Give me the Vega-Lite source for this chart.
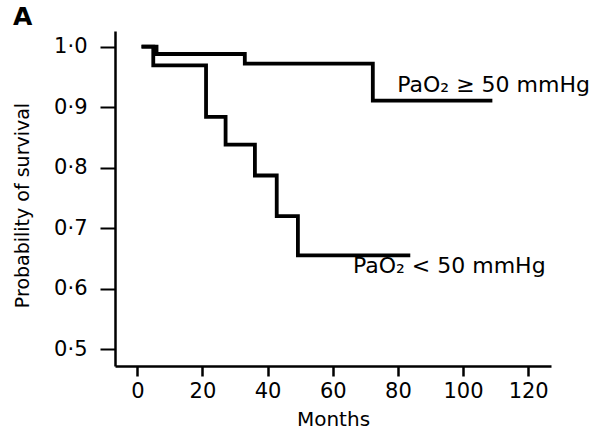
{
  "$schema": "https://vega.github.io/schema/vega-lite/v6.json",
  "width": 436,
  "height": 335,
  "autosize": {"type": "none"},
  "padding": {"left": 115, "top": 31, "right": 60, "bottom": 66},
  "background": "white",
  "config": {
    "view": {"stroke": null},
    "font": "DejaVu Sans",
    "axis": {"grid": false, "domainColor": "black", "tickColor": "black", "labelColor": "black", "titleColor": "black", "labelFont": "DejaVu Sans", "titleFont": "DejaVu Sans", "titleFontWeight": "normal"}
  },
  "title": {"text": "A", "anchor": "start", "frame": "group", "dx": -102, "offset": 1, "fontSize": 25, "fontWeight": "bold", "font": "DejaVu Sans", "color": "black"},
  "datasets": {
    "curves": [
      {"group": "high", "month": 1.3, "surv": 1.0},
      {"group": "high", "month": 5.9, "surv": 0.988},
      {"group": "high", "month": 33, "surv": 0.972},
      {"group": "high", "month": 72.3, "surv": 0.911},
      {"group": "high", "month": 109, "surv": 0.911},
      {"group": "low", "month": 1.3, "surv": 1.0},
      {"group": "low", "month": 4.9, "surv": 0.969},
      {"group": "low", "month": 21.1, "surv": 0.884},
      {"group": "low", "month": 27.1, "surv": 0.838},
      {"group": "low", "month": 36.1, "surv": 0.787},
      {"group": "low", "month": 42.8, "surv": 0.72},
      {"group": "low", "month": 49.3, "surv": 0.655},
      {"group": "low", "month": 83.8, "surv": 0.655}
    ],
    "labels": [
      {"month": 79.8, "surv": 0.925, "label": "PaO₂ ≥ 50 mmHg"},
      {"month": 66.2, "surv": 0.626, "label": "PaO₂ < 50 mmHg"}
    ]
  },
  "layer": [
    {
      "data": {"name": "curves"},
      "mark": {"type": "line", "interpolate": "step-after", "color": "black", "strokeWidth": 3.8, "strokeJoin": "miter", "strokeCap": "butt"},
      "encoding": {
        "x": {"field": "month", "type": "quantitative", "scale": {"domain": [-6.85, 127], "nice": false, "zero": false},
          "axis": {"values": [0, 20, 40, 60, 80, 100, 120], "title": "Months", "titleFontSize": 20, "labelFontSize": 21, "tickSize": 10, "tickWidth": 2.5, "domainWidth": 2.5, "labelPadding": 4, "titlePadding": 8}},
        "y": {"field": "surv", "type": "quantitative", "scale": {"domain": [0.472, 1.026], "nice": false, "zero": false},
          "axis": {"values": [0.5, 0.6, 0.7, 0.8, 0.9, 1.0], "labelExpr": "replace(format(datum.value, '.1f'), '.', '·')", "title": "Probability of survival", "titleFontSize": 19, "titleX": -93, "titleY": 174, "titleAlign": "center", "titleBaseline": "middle", "labelFontSize": 21, "tickSize": 15, "tickWidth": 2, "domainWidth": 2.5, "labelPadding": 13}},
        "detail": {"field": "group"}
      }
    },
    {
      "data": {"name": "labels"},
      "mark": {"type": "text", "align": "left", "baseline": "alphabetic", "fontSize": 22, "color": "black", "font": "DejaVu Sans"},
      "encoding": {
        "x": {"field": "month", "type": "quantitative"},
        "y": {"field": "surv", "type": "quantitative"},
        "text": {"field": "label"}
      }
    }
  ]
}
